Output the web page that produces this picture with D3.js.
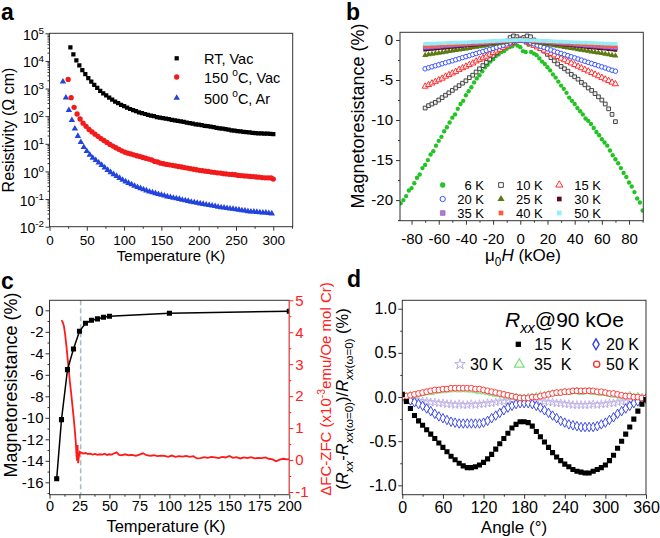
<!DOCTYPE html>
<html><head><meta charset="utf-8">
<script src="https://cdn.jsdelivr.net/npm/d3@7/dist/d3.min.js"></script>
<style>html,body{margin:0;padding:0;background:#fff;overflow:hidden}svg{display:block}</style>
</head><body>
<script>
// ================= DATA =================
// ---- Panel a : resistivity vs temperature ----
const aT_RT = [28,32,36,40,44,48,52,56,60,64,68,72,76,80,84,88,92,96,100,104,108,112,116,120,124,128,132,136,140,144,148,152,156,160,164,168,172,176,180,184,188,192,196,200,204,208,212,216,220,224,228,232,236,240,244,248,252,256,260,264,268,272,276,280,284,288,292,296,300];
const aRho_RT = [30900,17400,10500,6900,4680,3310,2400,1780,1350,1050,832,676,562,468,398,339,295,257,229,204,182,166,151,138,129,120,112,105,100,93,89,85,81,78,74,71,68,65,62,59,56,54,51,49,47,45,44,42,40,38,36.3,35.5,33.9,32.4,30.9,30.2,28.8,28.2,26.9,26.3,25.7,25.1,24.5,24.0,24.0,23.4,23.4,22.9,22.4];
const aT_150 = [25,29,33,37,41,45,49,53,57,61,65,69,73,77,81,85,89,93,97,101,105,109,113,117,121,125,129,133,137,141,145,149,153,157,161,165,169,173,177,181,185,189,193,197,201,205,209,213,217,221,225,229,233,237,241,245,249,253,257,261,265,269,273,277,281,285,289,293,297,300];
const aRho_150 = [2140,468,209,120,79,56,43,33,27,22.4,18.6,15.5,13.2,11.2,9.5,8.3,7.2,6.3,5.6,5.0,4.6,4.3,4.0,3.7,3.5,3.2,3.0,2.8,2.6,2.3,2.2,2.0,1.9,1.8,1.74,1.66,1.58,1.51,1.45,1.38,1.32,1.26,1.20,1.15,1.10,1.07,1.02,1.00,0.95,0.93,0.89,0.87,0.83,0.81,0.79,0.78,0.76,0.72,0.71,0.69,0.68,0.66,0.65,0.63,0.62,0.60,0.59,0.59,0.58,0.53];
const aT_500 = [18,22,26,30,34,38,42,46,50,54,58,62,66,70,74,78,82,86,90,94,98,102,106,110,114,118,122,126,130,134,138,142,146,150,154,158,162,166,170,174,178,182,186,190,194,198,202,206,210,214,218,222,226,230,234,238,242,246,250,254,258,262,266,270,274,278,282,286,290,294,298];
const aRho_500 = [1780,468,166,72,35.5,19.1,11.5,7.6,5.4,4.0,3.1,2.57,2.09,1.70,1.38,1.12,0.93,0.79,0.68,0.575,0.49,0.43,0.38,0.34,0.30,0.27,0.245,0.224,0.204,0.186,0.174,0.162,0.151,0.141,0.132,0.123,0.117,0.110,0.105,0.100,0.093,0.089,0.085,0.079,0.076,0.072,0.069,0.066,0.063,0.060,0.058,0.055,0.052,0.050,0.049,0.047,0.045,0.044,0.042,0.041,0.039,0.038,0.036,0.035,0.035,0.034,0.033,0.032,0.032,0.031,0.030];
const aXTicks = [0,50,100,150,200,250,300];
const aXMinor = [25,75,125,175,225,275,325];
const aYTicks = [1e-2,1e-1,1e0,1e1,1e2,1e3,1e4,1e5];

// ---- Panel b : magnetoresistance vs field ----
const bFieldGreen = [-90,-88,-86,-84,-82,-80,-78,-76,-74,-72,-70,-68,-66,-64,-62,-60,-58,-56,-54,-52,-50,-48,-46,-44,-42,-40,-38,-36,-34,-32,-30,-28,-26,-24,-22,-20,-18,-16,-14,-12,-10,-8,-6,-4,-2,0,2,4,6,8,10,12,14,16,18,20,22,24,26,28,30,32,34,36,38,40,42,44,46,48,50,52,54,56,58,60,62,64,66,68,70,72,74,76,78,80,82,84,86,88,90];
const bMR6 = [-20.9,-20.4,-20.0,-19.5,-18.8,-18.5,-17.9,-17.2,-16.8,-16.0,-15.6,-15.0,-14.3,-13.9,-13.2,-12.6,-12.1,-11.4,-10.9,-10.3,-9.7,-9.3,-8.6,-8.0,-7.6,-6.9,-6.4,-5.9,-5.3,-4.8,-4.4,-3.9,-3.4,-3.1,-2.7,-2.4,-2.0,-1.8,-1.5,-1.4,-1.1,-0.9,-0.8,-0.5,-0.7,-0.9,-1.4,-1.5,-0.6,-1.5,-1.7,-1.9,-2.3,-2.7,-3.0,-3.4,-3.8,-4.3,-4.7,-5.2,-5.7,-6.1,-6.6,-7.2,-7.6,-8.0,-8.5,-8.9,-9.3,-9.8,-10.1,-10.5,-11.0,-11.5,-11.9,-12.4,-12.8,-13.2,-13.8,-14.4,-14.9,-15.4,-16.0,-16.6,-17.1,-17.8,-18.3,-19.0,-19.8,-20.3,-21.3];
const bField = [-70,-67.5,-65,-62.5,-60,-57.5,-55,-52.5,-50,-47.5,-45,-42.5,-40,-37.5,-35,-32.5,-30,-27.5,-25,-22.5,-20,-17.5,-15,-12.5,-10,-7.5,-5,-2.5,0,2.5,5,7.5,10,12.5,15,17.5,20,22.5,25,27.5,30,32.5,35,37.5,40,42.5,45,47.5,50,52.5,55,57.5,60,62.5,65,67.5,70];
const bMR10 = [-8.5,-8.2,-8.0,-7.8,-7.5,-7.2,-6.9,-6.6,-6.3,-6.0,-5.7,-5.4,-5.1,-4.7,-4.4,-4.0,-3.6,-3.2,-2.8,-2.4,-2.0,-1.6,-1.1,-0.7,-0.2,0.3,0.5,0.4,0.1,0.3,0.5,0.4,0.0,-0.5,-1.0,-1.4,-1.8,-2.2,-2.6,-3.0,-3.3,-3.6,-3.9,-4.3,-4.6,-4.9,-5.3,-5.6,-6.0,-6.3,-6.7,-7.1,-7.5,-8.0,-8.6,-9.3,-10.2];
const bMR15 = [-5.8,-5.6,-5.4,-5.2,-5.0,-4.8,-4.55,-4.35,-4.15,-3.95,-3.7,-3.5,-3.3,-3.1,-2.9,-2.65,-2.45,-2.25,-2.05,-1.8,-1.6,-1.4,-1.2,-0.95,-0.75,-0.5,-0.3,-0.1,0,-0.1,-0.3,-0.5,-0.7,-0.9,-1.1,-1.3,-1.5,-1.7,-1.9,-2.1,-2.3,-2.5,-2.7,-2.9,-3.1,-3.3,-3.5,-3.7,-3.9,-4.1,-4.3,-4.5,-4.7,-4.9,-5.1,-5.3,-5.5];
const bMR20 = [-3.6,-3.47,-3.35,-3.22,-3.1,-2.97,-2.84,-2.72,-2.6,-2.47,-2.34,-2.2,-2.08,-1.95,-1.82,-1.7,-1.57,-1.44,-1.31,-1.18,-1.05,-0.92,-0.79,-0.65,-0.5,-0.35,-0.2,-0.08,0,-0.08,-0.2,-0.35,-0.5,-0.65,-0.8,-0.95,-1.1,-1.25,-1.4,-1.54,-1.68,-1.82,-1.96,-2.1,-2.24,-2.38,-2.52,-2.66,-2.8,-2.94,-3.08,-3.22,-3.36,-3.5,-3.64,-3.78,-3.9];
const bMR25 = [-1.9,-1.83,-1.76,-1.69,-1.63,-1.56,-1.49,-1.42,-1.36,-1.29,-1.22,-1.15,-1.09,-1.02,-0.95,-0.88,-0.82,-0.75,-0.68,-0.61,-0.55,-0.48,-0.41,-0.34,-0.26,-0.18,-0.1,-0.04,0,-0.04,-0.1,-0.18,-0.26,-0.34,-0.41,-0.48,-0.55,-0.62,-0.69,-0.76,-0.83,-0.9,-0.97,-1.04,-1.11,-1.18,-1.25,-1.32,-1.39,-1.46,-1.53,-1.6,-1.67,-1.74,-1.81,-1.9,-1.98];
const bMR30 = [-1.2,-1.16,-1.12,-1.07,-1.03,-0.99,-0.95,-0.91,-0.86,-0.82,-0.78,-0.74,-0.69,-0.65,-0.61,-0.57,-0.53,-0.48,-0.44,-0.4,-0.36,-0.31,-0.27,-0.22,-0.17,-0.12,-0.07,-0.03,0,-0.03,-0.07,-0.12,-0.17,-0.22,-0.27,-0.31,-0.36,-0.4,-0.44,-0.49,-0.53,-0.57,-0.62,-0.66,-0.7,-0.75,-0.79,-0.83,-0.88,-0.92,-0.96,-1.01,-1.05,-1.09,-1.14,-1.18,-1.25];
const bMR35 = [-0.95,-0.92,-0.88,-0.85,-0.82,-0.78,-0.75,-0.72,-0.68,-0.65,-0.62,-0.58,-0.55,-0.52,-0.48,-0.45,-0.42,-0.38,-0.35,-0.32,-0.28,-0.25,-0.21,-0.17,-0.13,-0.09,-0.05,-0.02,0,-0.02,-0.05,-0.09,-0.13,-0.17,-0.21,-0.25,-0.28,-0.32,-0.35,-0.39,-0.42,-0.46,-0.49,-0.53,-0.56,-0.6,-0.63,-0.67,-0.7,-0.74,-0.77,-0.81,-0.84,-0.88,-0.91,-0.95,-0.99];
const bMR40 = [-0.75,-0.72,-0.7,-0.67,-0.64,-0.62,-0.59,-0.56,-0.54,-0.51,-0.48,-0.46,-0.43,-0.4,-0.38,-0.35,-0.32,-0.3,-0.27,-0.24,-0.21,-0.19,-0.16,-0.13,-0.1,-0.07,-0.04,-0.01,0,-0.01,-0.04,-0.07,-0.1,-0.13,-0.16,-0.19,-0.21,-0.24,-0.27,-0.3,-0.32,-0.35,-0.38,-0.41,-0.43,-0.46,-0.49,-0.52,-0.54,-0.57,-0.6,-0.63,-0.65,-0.68,-0.71,-0.74,-0.78];
const bMR50 = [-0.5,-0.48,-0.46,-0.45,-0.43,-0.41,-0.39,-0.37,-0.36,-0.34,-0.32,-0.3,-0.29,-0.27,-0.25,-0.23,-0.21,-0.2,-0.18,-0.16,-0.14,-0.12,-0.1,-0.08,-0.06,-0.04,-0.02,-0.01,0,-0.01,-0.02,-0.04,-0.06,-0.08,-0.1,-0.12,-0.14,-0.16,-0.18,-0.2,-0.21,-0.23,-0.25,-0.27,-0.29,-0.3,-0.32,-0.34,-0.36,-0.37,-0.39,-0.41,-0.43,-0.45,-0.46,-0.48,-0.5];
const bLabels = ["6 K","10 K","15 K","20 K","25 K","30 K","35 K","40 K","50 K"];
const bXTicks = [-80,-60,-40,-20,0,20,40,60,80];
const bXMinor = [-70,-50,-30,-10,10,30,50,70,90];
const bYTicks = [0,-5,-10,-15,-20];
const bYMinor = [-2.5,-7.5,-12.5,-17.5,-22.5];

// ---- Panel c : MR and dFC-ZFC vs temperature ----
const cT = [6,10,15,20,25,30,35,40,45,50,100,200];
const cMR = [-15.66,-10.17,-5.52,-3.6,-1.95,-1.21,-0.93,-0.8,-0.65,-0.56,-0.28,-0.09];
const cT_M = [10,11,12,13,14,15,16,17,18,19,20,21,22,22.5,23,23.4,23.9,24.5,25.3,26,28,30,32,34,36,38,40,42,44,46,48,50,52,54,56,58,60,63,66,69,72,75,78,81,84,87,90,93,96,99,102,105,108,111,114,117,120,123,126,129,132,135,138,141,144,147,150,153,156,159,162,165,168,171,174,177,180,183,186,189,192,195,198,200];
const cDM = [4.38,4.32,4.2,3.95,3.6,3.23,2.85,2.45,2.12,1.75,1.38,0.98,0.52,0.15,-0.02,0.47,-0.1,0.1,0.26,0.24,0.2,0.22,0.19,0.2,0.17,0.19,0.16,0.18,0.17,0.2,0.16,0.18,0.17,0.21,0.24,0.16,0.15,0.18,0.15,0.16,0.13,0.17,0.21,0.15,0.13,0.15,0.12,0.14,0.13,0.1,0.14,0.1,0.12,0.11,0.13,0.1,0.12,0.05,0.06,0.09,0.07,0.1,0.08,0.06,0.1,0.08,0.13,0.07,0.09,0.05,0.08,0.06,0.09,0.05,0.07,0.06,0.08,0.04,0.02,-0.04,0.01,0.04,0.02,0.03];
const cTc = 26;
const cXTicks = [0,25,50,75,100,125,150,175,200];
const cXMinor = [12.5,37.5,62.5,87.5,112.5,137.5,162.5,187.5];
const cYTicks = [0,-2,-4,-6,-8,-10,-12,-14,-16];
const cYMinor = [-1,-3,-5,-7,-9,-11,-13,-15,-17];
const cY2Ticks = [5,4,3,2,1,0,-1];
const cY2Minor = [4.5,3.5,2.5,1.5,0.5,-0.5];

// ---- Panel d : angular dependence ----
const dAngle = [0,6,12,18,24,30,36,42,48,54,60,66,72,78,84,90,96,102,108,114,120,126,132,138,144,150,156,162,168,174,180,186,192,198,204,210,216,222,228,234,240,246,252,258,264,270,276,282,288,294,300,306,312,318,324,330,336,342,348,354,360];
const d15 = [0.03,-0.05,-0.13,-0.21,-0.27,-0.32,-0.37,-0.42,-0.47,-0.52,-0.57,-0.62,-0.67,-0.71,-0.75,-0.78,-0.80,-0.80,-0.79,-0.77,-0.74,-0.70,-0.65,-0.59,-0.53,-0.47,-0.41,-0.35,-0.31,-0.28,-0.28,-0.29,-0.33,-0.39,-0.45,-0.51,-0.57,-0.63,-0.68,-0.72,-0.76,-0.79,-0.82,-0.84,-0.85,-0.86,-0.86,-0.84,-0.82,-0.80,-0.77,-0.72,-0.66,-0.58,-0.50,-0.42,-0.34,-0.25,-0.16,-0.08,-0.03];
const d20 = [0.0,-0.02,-0.04,-0.06,-0.08,-0.1,-0.13,-0.16,-0.19,-0.22,-0.24,-0.26,-0.28,-0.29,-0.30,-0.30,-0.30,-0.30,-0.30,-0.30,-0.29,-0.27,-0.24,-0.21,-0.18,-0.15,-0.12,-0.10,-0.08,-0.07,-0.07,-0.07,-0.08,-0.10,-0.12,-0.15,-0.18,-0.21,-0.24,-0.27,-0.29,-0.31,-0.32,-0.33,-0.34,-0.34,-0.34,-0.34,-0.33,-0.31,-0.29,-0.26,-0.23,-0.19,-0.16,-0.13,-0.10,-0.07,-0.05,-0.03,-0.02];
const d30 = [0.0,-0.01,-0.02,-0.03,-0.04,-0.05,-0.05,-0.06,-0.06,-0.07,-0.07,-0.08,-0.08,-0.09,-0.08,-0.09,-0.09,-0.08,-0.09,-0.08,-0.08,-0.07,-0.07,-0.06,-0.05,-0.05,-0.04,-0.04,-0.03,-0.03,-0.03,-0.03,-0.04,-0.04,-0.05,-0.05,-0.06,-0.06,-0.07,-0.07,-0.08,-0.08,-0.09,-0.09,-0.09,-0.09,-0.09,-0.08,-0.09,-0.08,-0.08,-0.07,-0.07,-0.06,-0.05,-0.05,-0.04,-0.03,-0.02,-0.02,-0.01];
const d35 = [0.0,0.01,0.02,0.02,0.03,0.04,0.05,0.05,0.06,0.07,0.07,0.08,0.08,0.09,0.08,0.09,0.08,0.08,0.07,0.06,0.06,0.05,0.04,0.03,0.03,0.02,0.01,0.0,0.0,-0.01,-0.01,0.0,0.0,0.01,0.02,0.02,0.03,0.04,0.04,0.05,0.06,0.05,0.06,0.07,0.05,0.06,0.07,0.05,0.05,0.04,0.04,0.03,0.02,0.02,0.01,0.01,0.02,0.0,0.01,0.0,-0.01];
const d50 = [0.0,0.01,0.02,0.03,0.04,0.05,0.06,0.07,0.08,0.08,0.09,0.09,0.10,0.10,0.10,0.10,0.10,0.10,0.09,0.09,0.08,0.07,0.06,0.05,0.04,0.03,0.02,0.01,0.0,-0.01,-0.01,-0.01,0.0,0.0,0.01,0.02,0.03,0.04,0.05,0.05,0.06,0.06,0.07,0.07,0.07,0.07,0.07,0.07,0.06,0.06,0.05,0.04,0.04,0.03,0.02,0.01,0.01,0.0,0.0,-0.01,-0.01];
const dXTicks = [0,60,120,180,240,300,360];
const dXMinor = [30,90,150,210,270,330];
const dYTicks = [-1.0,-0.5,0.0,0.5,1.0];
const dYMinor = [-0.75,-0.25,0.25,0.75];

// ================= DRAWING =================
const F = 'Arial, "Liberation Sans", Helvetica, sans-serif';
const svg = d3.select("body").append("svg").attr("width",660).attr("height",538).style("font-family",F);
const FRAME = "#333";

function rich(text, parts, fs){
  let shift = 0;
  parts.forEach(p=>{
    const ts = text.append("tspan").text(p.t);
    const target = p.sup ? -fs*0.42 : (p.sub ? fs*0.28 : 0);
    if (target !== shift){ ts.attr("dy", target-shift); shift = target; }
    if (p.sup||p.sub) ts.attr("font-size", fs*0.7);
    if (p.it) ts.attr("font-style","italic");
  });
  return text;
}
function txt(x,y,fs,anchor,color,rot){
  const t = svg.append("text").attr("font-size",fs).attr("text-anchor",anchor||"start").attr("fill",color||"#000");
  if (rot) t.attr("transform",`translate(${x},${y}) rotate(${rot})`); else t.attr("x",x).attr("y",y);
  return t;
}
function tidy(g, fs, tc, lc){
  g.select(".domain").remove();
  g.attr("font-family",F).attr("font-size",fs);
  g.selectAll(".tick line").attr("stroke",lc||FRAME);
  g.selectAll(".tick text").attr("fill",tc||"#000");
}
function axis(kind, sc, pos, major, minor, fs, pad, fmt, col){
  const mk = {b:d3.axisBottom,l:d3.axisLeft,r:d3.axisRight}[kind];
  const tr = kind==="b" ? `translate(0,${pos})` : `translate(${pos},0)`;
  const g = svg.append("g").attr("transform",tr)
    .call(mk(sc).tickValues(major).tickSizeInner(4).tickSizeOuter(0).tickPadding(pad).tickFormat(fmt||(d=>String(d))));
  tidy(g, fs, col, col);
  if (minor){
    const m = svg.append("g").attr("transform",tr)
      .call(mk(sc).tickValues(minor.filter(v=>v>=d3.min(sc.domain())&&v<=d3.max(sc.domain()))).tickSizeInner(2).tickSizeOuter(0).tickFormat(""));
    tidy(m, fs, col, col);
  }
  return g;
}
function frame(P, col){
  svg.append("rect").attr("x",P.l).attr("y",P.t).attr("width",P.r-P.l).attr("height",P.b-P.t)
    .attr("fill","none").attr("stroke",col||FRAME).attr("stroke-width",1);
}
let clipN = 0;
function plotG(P){
  const id = "clip"+(clipN++);
  svg.append("clipPath").attr("id",id).append("rect").attr("x",P.l).attr("y",P.t).attr("width",P.r-P.l).attr("height",P.b-P.t);
  return svg.append("g").attr("clip-path",`url(#${id})`);
}
function pts(g, xs, ys, sx, sy, st){
  const path = d3.symbol().type(st.type).size(st.size)();
  g.append("g").selectAll("path").data(xs.map((x,i)=>[x,ys[i]])).join("path")
    .attr("d", path)
    .attr("transform", d=>`translate(${sx(d[0])},${sy(d[1])})`)
    .attr("fill", st.fill).attr("stroke", st.stroke||"none").attr("stroke-width", st.sw||0);
}
function legendMark(x,y,st){
  svg.append("path").attr("d", d3.symbol().type(st.type).size(st.lsize||st.size)())
    .attr("transform",`translate(${x},${y})`)
    .attr("fill", st.fill).attr("stroke", st.stroke||"none").attr("stroke-width", st.sw||0);
}
function panelLabel(x,y,s){ txt(x,y,23,"start","#000").attr("font-weight","bold").text(s); }

// ---------- Panel a ----------
const A = {l:49.5, r:292.7, t:33.3, b:226.7};
const ax = d3.scaleLinear().domain([0,326]).range([A.l,A.r]);
const ay = d3.scaleLog().domain([1e-2,1e5]).range([A.b,A.t]);
const gAP = plotG(A);
const stRT = {type:d3.symbolSquare,size:18,fill:"#000"};
const st150 = {type:d3.symbolCircle,size:22,fill:"#f21a1a"};
const st500 = {type:d3.symbolTriangle,size:18,fill:"#2244dd"};
pts(gAP, aT_500, aRho_500, ax, ay, st500);
pts(gAP, aT_150, aRho_150, ax, ay, st150);
pts(gAP, aT_RT, aRho_RT, ax, ay, stRT);
frame(A);
axis("b", ax, A.b, aXTicks, aXMinor, 13.5, 5);
const aMinor = [];
aYTicks.slice(0,-1).forEach(d=>{ for(let m=2;m<10;m++) aMinor.push(d*m); });
const gAy = axis("l", ay, A.l, aYTicks, aMinor, 14, 2, ()=> "");
gAy.selectAll(".tick").each(function(d){
  const t = d3.select(this).append("text").attr("x",-5.5).attr("y",6).attr("text-anchor","end").attr("fill","#000").attr("font-size",14);
  rich(t,[{t:"10"},{t:String(Math.round(Math.log10(d))),sup:true}],14);
});
txt(171,261,15,"middle").text("Temperature (K)");
txt(14,130,16,"middle",null,-90).text("Resistivity (\u03A9 cm)");
legendMark(176.7,58.3,stRT); legendMark(176.7,77,st150); legendMark(176.7,98,st500);
rich(txt(204,63.5,14.5),[{t:"RT, Vac"}],14.5);
rich(txt(204,82.5,14.5),[{t:"150 "},{t:"o",sup:true},{t:"C, Vac"}],14.5);
rich(txt(204,103.5,14.5),[{t:"500 "},{t:"o",sup:true},{t:"C, Ar"}],14.5);
panelLabel(1,20,"a");

// ---------- Panel b ----------
const B = {l:400, r:643.3, t:32.3, b:220.7};
const bx = d3.scaleLinear().domain([-88.5,90.5]).range([B.l,B.r]);
const by = d3.scaleLinear().domain([-22.57,0.957]).range([B.b,B.t]);
const gBP = plotG(B);
const bStyles = [
  {type:d3.symbolCircle,size:15,fill:"#22c322"},
  {type:d3.symbolSquare,size:14,fill:"#eee",stroke:"#333",sw:0.9},
  {type:d3.symbolTriangle,size:16,fill:"#fff",stroke:"#ff2a2a",sw:1},
  {type:d3.symbolCircle,size:16,fill:"#fff",stroke:"#3a55ff",sw:1},
  {type:d3.symbolTriangle,size:16,fill:"#5b7b12"},
  {type:d3.symbolSquare,size:14,fill:"#5c0a22"},
  {type:d3.symbolSquare,size:14,fill:"#b47ad0",stroke:"#8a50b8",sw:0.6},
  {type:d3.symbolSquare,size:14,fill:"#ff5a40"},
  {type:d3.symbolSquare,size:14,fill:"#92eef8"}
];
const bData = [[bFieldGreen,bMR6],[bField,bMR10],[bField,bMR15],[bField,bMR20],[bField,bMR25],[bField,bMR30],[bField,bMR35],[bField,bMR40],[bField,bMR50]];
bData.forEach((d,i)=> pts(gBP, d[0], d[1], bx, by, bStyles[i]));
frame(B);
axis("b", bx, B.b, bXTicks, bXMinor, 15, 8.5);
axis("l", by, B.l, bYTicks, bYMinor, 15, 3);
{
  const t = txt(523,261,17,"middle");
  rich(t,[{t:"\u03BC"},{t:"0",sub:true},{t:"H",it:true},{t:" (kOe)"}],17);
}
txt(364,116,18,"middle",null,-90).text("Magnetoresistance (%)");
const bLegX = [442.7,501,559.3], bLegTX = [484,542.7,601], bLegY = [185,199,213];
bLabels.forEach((lab,i)=>{
  const r = Math.floor(i/3), c = i%3;
  legendMark(bLegX[c], bLegY[r], Object.assign({}, bStyles[i], {lsize: 22, fill: bStyles[i].fill==="#eee"?"#fff":bStyles[i].fill}));
  txt(bLegTX[c], bLegY[r]+4.5, 13, "end").text(lab);
});
panelLabel(346,20,"b");

// ---------- Panel c ----------
const C = {l:49.5, r:289.3, t:300.3, b:494.7};
const cx = d3.scaleLinear().domain([0,200]).range([C.l,C.r]);
const cy = d3.scaleLinear().domain([-17.15,0.93]).range([C.b,C.t]);
const cy2 = d3.scaleLinear().domain([-1.085,5]).range([C.b,C.t]);
const gCP = plotG(C);
gCP.append("line").attr("x1",cx(cTc)).attr("x2",cx(cTc)).attr("y1",C.t).attr("y2",C.b)
  .attr("stroke","#a9bcc4").attr("stroke-width",1.6).attr("stroke-dasharray","5,3");
gCP.append("path").datum(cT_M.map((t,i)=>[t,cDM[i]]))
  .attr("d", d3.line().x(d=>cx(d[0])).y(d=>cy2(d[1])))
  .attr("fill","none").attr("stroke","#ff1a1a").attr("stroke-width",1.8);
gCP.append("path").datum(cT.map((t,i)=>[t,cMR[i]]))
  .attr("d", d3.line().x(d=>cx(d[0])).y(d=>cy(d[1])))
  .attr("fill","none").attr("stroke","#000").attr("stroke-width",1.5);
pts(gCP, cT, cMR, cx, cy, {type:d3.symbolSquare,size:26,fill:"#000"});
svg.append("rect").attr("x",C.l).attr("y",C.t).attr("width",C.r-C.l).attr("height",C.b-C.t).attr("fill","none").attr("stroke",FRAME);
svg.append("line").attr("x1",C.r).attr("x2",C.r).attr("y1",C.t).attr("y2",C.b).attr("stroke","#ff5a5a").attr("stroke-width",1.2);
axis("b", cx, C.b, cXTicks, cXMinor, 14.5, 2.5);
axis("l", cy, C.l, cYTicks, cYMinor, 15, 2);
axis("r", cy2, C.r, cY2Ticks, cY2Minor, 15, 2, null, "#ff2020");
txt(166,532,16.5,"middle").text("Temperature (K)");
txt(17,385,18,"middle",null,-90).text("Magnetoresistance (%)");
{
  const t = txt(331,389,15,"middle","#ff2020",-90);
  rich(t,[{t:"\u0394FC-ZFC (x10"},{t:"-3",sup:true},{t:"emu/Oe mol Cr)"}],15);
}
panelLabel(1,289,"c");

// ---------- Panel d ----------
const D = {l:402.3, r:646, t:300.3, b:494.7};
const dx = d3.scaleLinear().domain([0,360]).range([D.l,D.r]);
const dy = d3.scaleLinear().domain([-1.106,1.095]).range([D.b,D.t]);
const gDP = plotG(D);
const st15 = {type:d3.symbolSquare,size:26,fill:"#000"};
const st20 = {type:d3.symbolDiamond,size:26,fill:"#fff",stroke:"#2a3ae0",sw:0.9};
const st30 = {type:d3.symbolStar,size:22,fill:"none",stroke:"#b9abe2",sw:0.8};
const st35 = {type:d3.symbolTriangle,size:20,fill:"none",stroke:"#7fe07f",sw:0.9};
const st50 = {type:d3.symbolCircle,size:26,fill:"#fff",stroke:"#ff2a2a",sw:0.9};
pts(gDP, dAngle, d30, dx, dy, st30);
pts(gDP, dAngle, d35, dx, dy, st35);
pts(gDP, dAngle, d20, dx, dy, st20);
pts(gDP, dAngle, d50, dx, dy, st50);
pts(gDP, dAngle, d15, dx, dy, st15);
frame(D);
axis("b", dx, D.b, dXTicks, dXMinor, 16, 2.5);
axis("l", dy, D.l, dYTicks, dYMinor, 16, 1.6, d=>d.toFixed(1));
txt(514,533,17,"middle").text("Angle (\u00B0)");
{
  const t = txt(348,399,16.5,"middle",null,-90);
  rich(t,[{t:"("},{t:"R",it:true},{t:"xx",sub:true,it:true},{t:"-"},{t:"R",it:true},{t:"xx",sub:true,it:true},{t:"(\u03C9=0)",sub:true},{t:")/"},{t:"R",it:true},{t:"xx",sub:true,it:true},{t:"(\u03C9=0)",sub:true},{t:" (%)"}],16.5);
}
rich(txt(505,327,21),[{t:"R",it:true},{t:"xx",sub:true,it:true},{t:"@90 kOe"}],21);
legendMark(518.3,344.3,Object.assign({},st15,{lsize:28}));
txt(534.3,350,16).text("15\u00A0\u00A0K");
legendMark(596,344.3,Object.assign({},st20,{lsize:34,sw:1.3}));
txt(606,350,16).text("20 K");
legendMark(460,364.3,Object.assign({},st30,{lsize:34,sw:1}));
txt(470,370,16).text("30 K");
legendMark(519.3,364.3,Object.assign({},st35,{lsize:40,sw:1.3}));
txt(534,370,16).text("35\u00A0\u00A0K");
legendMark(596.7,364.3,Object.assign({},st50,{lsize:30,sw:1.3}));
txt(606,370,16).text("50 K");
panelLabel(347,287,"d");
</script>
</body></html>
